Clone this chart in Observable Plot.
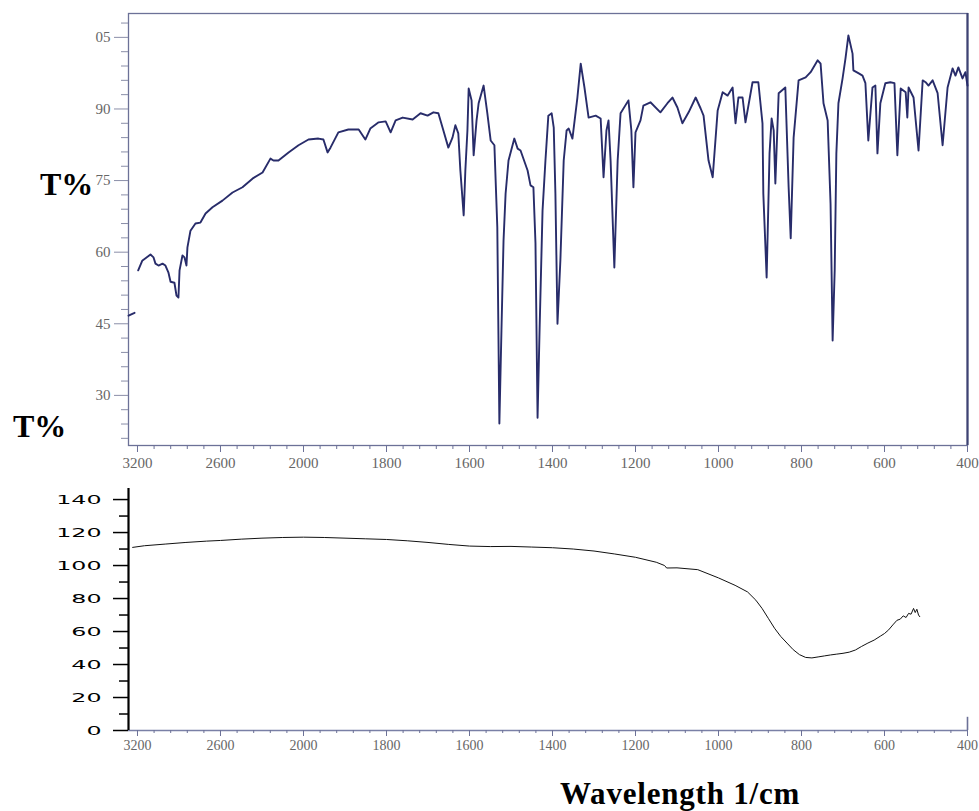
<!DOCTYPE html>
<html><head><meta charset="utf-8">
<script src="https://cdn.jsdelivr.net/npm/d3@7"></script>
<script src="https://cdn.jsdelivr.net/npm/@observablehq/plot@0.6"></script>
<style>
body{margin:0;background:#fff;}
#wrap{position:relative;width:979px;height:811px;overflow:hidden;background:#fff;}
#top,#bot{position:absolute;left:0;}
#top{top:0px;} #bot{top:475px;}
.lab{position:absolute;font-family:"Liberation Serif","Times New Roman",serif;font-weight:bold;color:#000;white-space:nowrap;line-height:1;}
</style></head><body>
<div id="wrap">
<div id="top"></div><div id="bot"></div>
<div class="lab" style="left:40px;top:168px;font-size:32px">T%</div>
<div class="lab" style="left:13px;top:410px;font-size:32px">T%</div>
<div class="lab" style="left:560px;top:778px;font-size:31px;letter-spacing:0.8px">Wavelength 1/cm</div>
</div>
<script>
// ---- data ----
const xTickValues = [3200,2600,2000,1800,1600,1400,1200,1000,800,600,400];
const topYTicks = [30,45,60,75,90,105];
const botYTicks = [0,20,40,60,80,100,120,140];

// top spectrum: wavenumber (1/cm) and transmittance (%)
const topWn = [3195,3166,3106,3084,3070,3048,3019,2998,2976,2961,
2933,2918,2904,2896,2875,2860,2846,2839,2817,2781,
2745,2708,2658,2586,2513,2441,2369,2296,2239,2217,
2181,2108,2036,1988,1964,1952,1942,1935,1916,1892,
1867,1851,1839,1819,1802,1790,1778,1761,1737,1718,
1701,1687,1675,1665,1651,1641,1634,1627,1622,1614,
1610,1605,1602,1595,1590,1583,1578,1566,1557,1549,
1540,1533,1528,1523,1518,1513,1506,1492,1484,1477,
1460,1453,1446,1441,1436,1431,1424,1417,1410,1402,
1397,1393,1388,1381,1373,1366,1361,1352,1340,1332,
1323,1313,1296,1284,1277,1270,1265,1260,1251,1243,
1236,1217,1210,1205,1200,1188,1181,1164,1140,1123,
1111,1099,1087,1072,1055,1043,1036,1024,1014,1002,
990,978,966,959,952,942,935,918,904,894,
892,884,877,872,867,863,855,839,831,826,
819,807,790,778,761,754,747,737,730,725,
720,716,711,701,694,687,677,675,663,653,
646,639,629,622,617,610,598,586,576,569,
561,549,545,542,530,518,508,501,494,484,
472,460,448,436,429,422,412,405,400];
const topT = [56.2,58.2,59.5,58.9,57.6,57.2,57.6,57.2,55.7,53.8,
53.6,50.9,50.5,56.2,59.3,58.9,57.2,61.0,64.5,66.0,
66.2,68.1,69.4,70.8,72.5,73.6,75.4,76.7,79.6,79.2,
79.2,80.9,82.4,83.6,83.8,83.6,80.9,81.9,85.1,85.7,
85.7,83.6,85.9,87.2,87.4,85.1,87.6,88.2,87.8,89.1,
88.6,89.3,89.1,86.1,81.9,84.0,86.6,84.9,77.1,67.7,
77.1,85.5,94.3,91.8,80.3,87.6,91.2,94.9,89.1,83.4,
82.4,65.2,24.1,43.6,62.4,72.3,79.2,83.8,81.7,81.3,
77.1,74.0,73.6,61.8,25.3,44.2,68.7,79.2,88.6,89.1,
86.1,72.3,45.0,58.3,79.2,85.5,85.9,83.8,92.4,99.5,
94.5,88.2,88.6,88.0,75.7,85.5,87.6,79.2,56.8,79.2,
89.1,91.8,85.5,73.6,85.1,87.6,90.7,91.4,89.3,91.2,
92.4,90.3,87.0,89.3,92.4,90.1,88.6,79.2,75.7,89.7,
93.5,92.8,94.5,87.0,92.4,92.4,87.2,95.6,95.6,87.0,
72.3,54.7,80.7,88.0,85.5,74.4,93.3,94.5,73.6,62.9,
84.0,96.0,96.6,97.7,100.2,99.5,91.2,87.6,70.2,41.5,
56.2,80.7,91.2,96.4,100.6,105.4,101.6,98.1,97.5,97.0,
95.4,83.4,94.5,94.9,80.7,91.2,95.4,95.6,95.4,80.3,
94.3,93.5,88.2,94.5,92.4,81.3,96.0,95.6,94.9,96.0,
93.3,82.4,94.5,98.5,97.0,98.7,96.4,97.7,94.9];
// short detached trace piece at the left edge
const edgeWn = [3265,3221];
const edgeT = [46.7,47.3];

// bottom spectrum
const botWn = [3235,3150,3000,2850,2700,2600,2450,2300,2150,2000,1950,1900,1850,1800,1750,1700,1650,1600,1550,1500,1450,1400,1350,1300,1250,1200,1150,1130,1125,1100,1050,1000,960,930,910,895,880,865,850,835,820,805,790,775,760,745,730,715,700,685,670,655,640,625,610,600,590,580,570,562,555,548,542,536,530,526,522,518,515];
const botT = [111,112,113,114,114.8,115.2,116,116.6,117,117.2,117,116.6,116.2,115.8,115,114,112.8,111.8,111.5,111.6,111.2,110.8,110,108.8,107,105,102,100,98.5,98.6,97.5,92.5,88,84,79,74,68,62,57,53,49,46,44.3,44,44.6,45.2,45.8,46.3,46.8,47.5,48.8,51,53,54.8,57.2,58.8,61,64,66.8,67.5,69.5,68.5,71,70.5,74,71.5,73.5,70,69];

// ---- tables ----
const topData = topWn.map((w,i)=>({wn:w,t:topT[i],seg:"main"}))
  .concat(edgeWn.map((w,i)=>({wn:w,t:edgeT[i],seg:"edge"})));
const botData = botWn.map((w,i)=>({wn:w,t:botT[i]}));
const xMinor = d3.range(3200,2000,-120).concat(d3.range(2000,400,-40)).filter(v=>!xTickValues.includes(v));
const topYMinor = d3.range(21,110,3).filter(v=>!topYTicks.includes(v));
const botYMinor = d3.range(10,146,20);

const xScale = {type:"linear", domain:[3265,2000,400], range:[128,303,967], label:null};
const axisCol = "#6c7197";
const labCol = "#666";
const serif = "'Liberation Serif','Times New Roman',serif";

const topPlot = Plot.plot({
  width:979, height:475, marginLeft:128, marginRight:12, marginTop:13, marginBottom:30,
  style:{fontFamily:serif, fontSize:"15px", background:"transparent", overflow:"visible"},
  x:xScale,
  y:{domain:[19.5,110], label:null},
  marks:[
    Plot.frame({stroke:axisCol, strokeWidth:1.3}),
    Plot.ruleX([400], {stroke:"#3e4373", strokeWidth:2.2}),
    Plot.axisX({ticks:xMinor, tickSize:4, tickFormat:()=>"", stroke:axisCol, label:null}),
    Plot.axisX({ticks:xTickValues, tickSize:7, tickPadding:5, stroke:axisCol, fill:labCol, fontSize:15, tickFormat:d=>String(d), label:null}),
    Plot.axisY({ticks:topYMinor, tickSize:7, tickFormat:()=>"", stroke:"#8a8ea8", label:null}),
    Plot.axisY({ticks:topYTicks, tickSize:14, tickPadding:4, stroke:"#8a8ea8", fill:labCol, fontSize:15, tickFormat:d=>d===105?"05":String(d), label:null}),
    Plot.line(topData, {x:"wn", y:"t", z:"seg", stroke:"#282c6a", strokeWidth:1.9, strokeLinejoin:"round"})
  ]
});
document.getElementById("top").appendChild(topPlot);

const botPlot = Plot.plot({
  width:979, height:290, marginLeft:128, marginRight:12, marginTop:13, marginBottom:35,
  style:{fontFamily:serif, fontSize:"15px", background:"transparent", overflow:"visible"},
  x:xScale,
  y:{domain:[0,146.7], label:null},
  marks:[
    Plot.ruleY([0], {stroke:"#7a80a6", strokeWidth:1.6}),
    Plot.ruleX([400], {y1:0, y2:8, stroke:axisCol, strokeWidth:1.6}),
    Plot.ruleX([3265], {stroke:"#000", strokeWidth:2.2}),
    Plot.axisX({ticks:xMinor, tickSize:3, tickFormat:()=>"", stroke:axisCol, label:null}),
    Plot.axisX({ticks:xTickValues, tickSize:6, tickPadding:4, stroke:axisCol, fill:labCol, fontSize:14, tickFormat:d=>String(d), label:null}),
    Plot.axisY({ticks:botYMinor, tickSize:9, tickFormat:()=>"", stroke:"#000", strokeWidth:1.5, label:null}),
    Plot.axisY({ticks:botYTicks, tickSize:15, tickPadding:12, stroke:"#000", strokeWidth:1.5, fill:"#000", fontSize:12.5, fontFamily:"'DejaVu Sans',sans-serif", tickFormat:d=>String(d), label:null}),
    Plot.line(botData, {x:"wn", y:"t", stroke:"#111", strokeWidth:1})
  ]
});
document.getElementById("bot").appendChild(botPlot);

// widen the extended-style sans labels of the lower y axis (scale about each label's anchor)
d3.select(botPlot).selectAll('g[aria-label="y-axis tick label"] text').each(function(){
  if (!this.textContent) return;
  const t = this.getAttribute("transform");
  if (t) this.setAttribute("transform", t + " scale(1.9,1)");
});
</script>
</body></html>
